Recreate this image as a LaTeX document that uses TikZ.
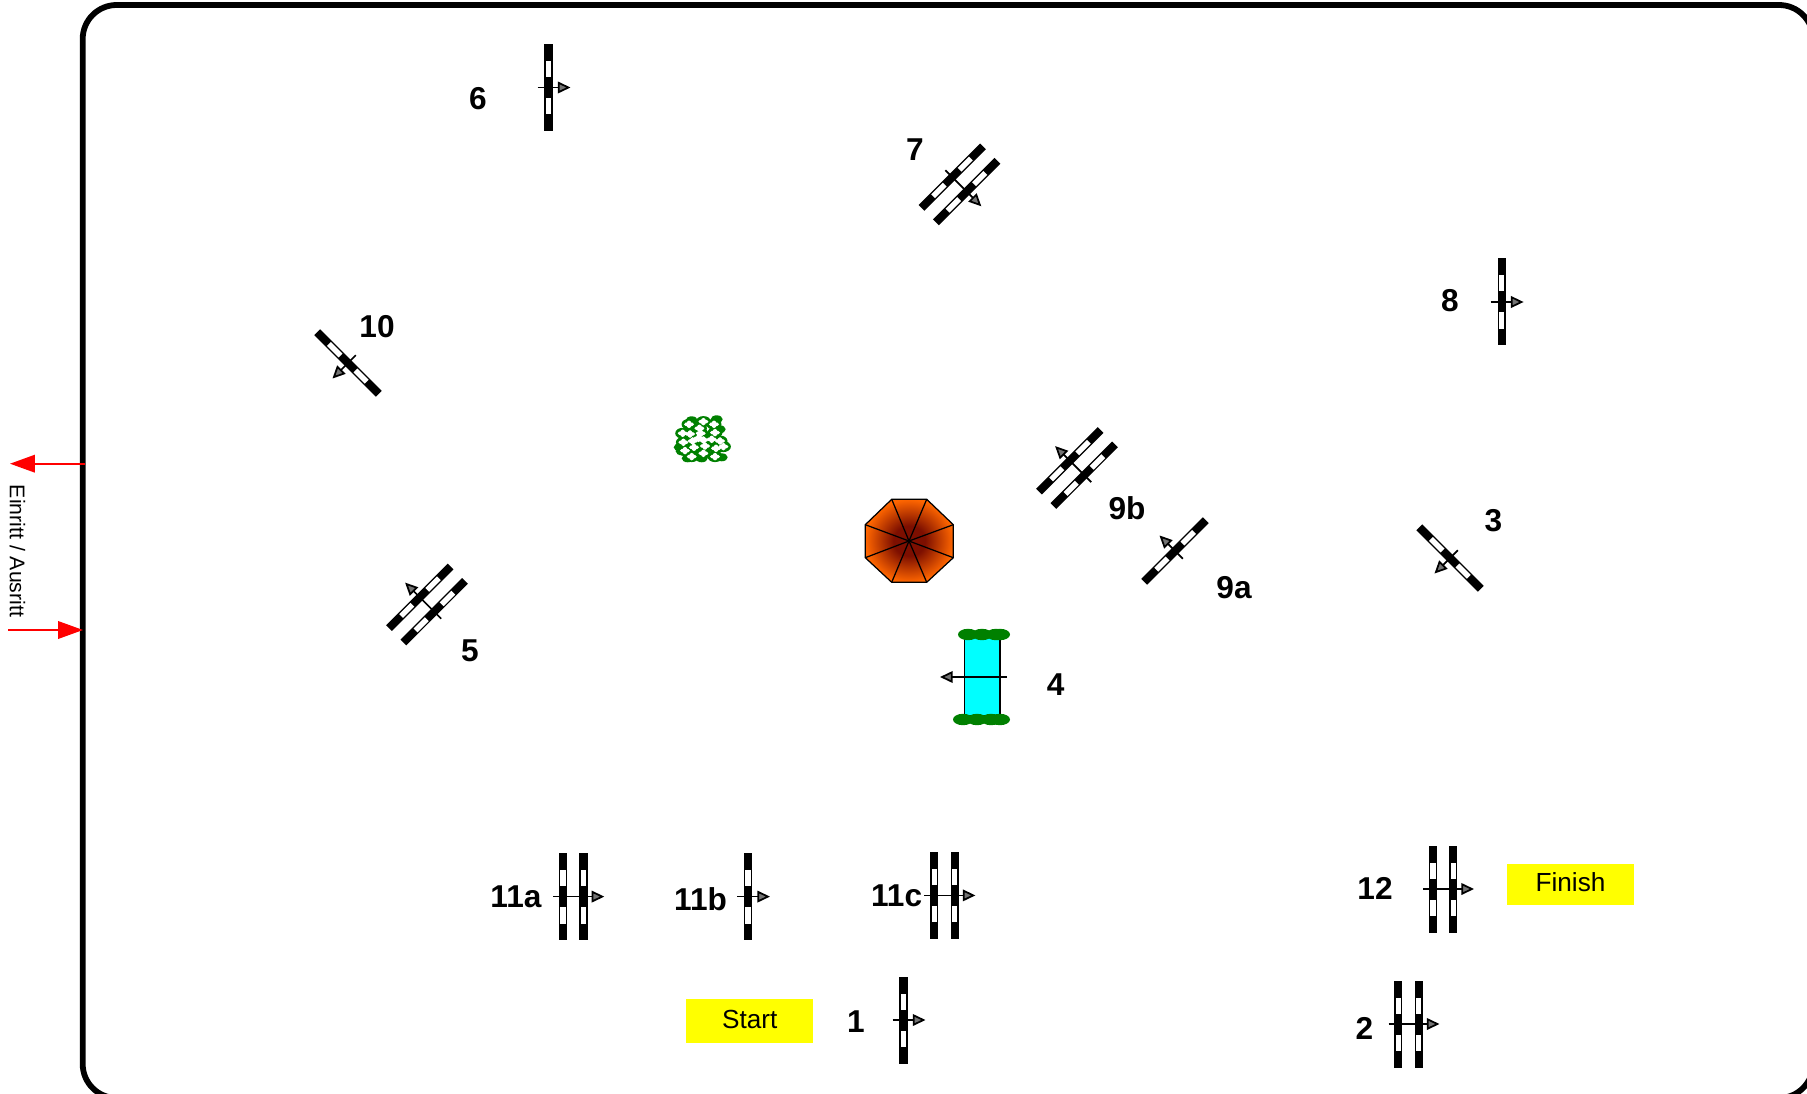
\documentclass[tikz,border=0pt]{standalone}
\usepackage{fontspec}
\setmainfont{Liberation Sans}
\usetikzlibrary{arrows.meta}

\definecolor{bushgreen}{RGB}{0,128,0}
\definecolor{roofdark}{RGB}{125,15,0}
\definecolor{rooflight}{RGB}{255,102,0}
\definecolor{watercyan}{RGB}{0,255,255}
\definecolor{signyellow}{RGB}{255,255,0}
\definecolor{entryred}{RGB}{255,0,0}

\pgfdeclareradialshading{roofshade}{\pgfpoint{0bp}{0bp}}{color(0bp)=(roofdark); color(9bp)=(roofdark); color(25bp)=(rooflight); color(50bp)=(rooflight)}

\newcommand{\jumpbar}[1]{
  \fill[black] (#1-4.1,-43.5) rectangle (#1+4.1,43.5);
  \fill[white] (#1-2.7,-26.5) rectangle (#1+2.7,-10.5);
  \fill[white] (#1-2.7,10.5) rectangle (#1+2.7,27);
}

\tikzset{
  numlabel/.style={inner sep=0pt, font=\fontsize{18}{20}\selectfont\bfseries},
  signbox/.style={fill=signyellow, inner sep=0pt, minimum width=2.54cm, text depth=0.08cm, font=\fontsize{14.9}{17}\selectfont},
  jumparrow/.style={line width=1pt, -{Triangle[length=7.2pt, width=6.6pt, fill=black!55]}},
  redarrow/.style={entryred, line width=1pt, -{Triangle[length=14.2pt, width=10pt]}},
  jumpone/.pic={
    \jumpbar{0}
    \draw[jumparrow] (-11,0) -- (22,0);
  },
  jumptwo/.pic={
    \jumpbar{-10.2}
    \jumpbar{10.2}
    \draw[jumparrow] (-20,0) -- (31,0);
  }
}

\begin{document}
\begin{tikzpicture}[x=0.02cm, y=-0.02cm]
\useasboundingbox (0,0) rectangle (1807,1094);

% arena
\draw[line width=3.3pt, rounded corners=0.68cm] (82.7,5) rectangle (1813,1098);

% entrance
\coordinate (outA) at (85,463.7);
\coordinate (outB) at (10,463.7);
\coordinate (inA) at (8,630);
\coordinate (inB) at (83,630);
\draw[redarrow] (outA) -- (outB);
\draw[redarrow] (inA) -- (inB);
\node[rotate=-90, inner sep=0pt, font=\fontsize{12.1}{14}\selectfont] (entry) at (17.5,551) {Einritt / Ausritt};

% jumps
\foreach \x/\y/\r in {903.5/1020/0, 1450/558/225, 548.5/87.5/0, 1501.6/302/0, 1175/551/135, 348/363/225, 748/896.6/0}
  \pic[rotate=\r] at (\x,\y) {jumpone};
\foreach \x/\y/\r in {1408.5/1024/0, 427/604.5/135, 959.4/184.4/-45, 1077/468/135, 573.3/896.6/0, 944.4/895.4/0, 1443/889/0}
  \pic[rotate=\r] at (\x,\y) {jumptwo};

% water jump
\filldraw[fill=watercyan, line width=0.85pt] (964.3,637) rectangle (1000,716);
\foreach \x in {968,982,996,1000}
  \fill[bushgreen] (\x,634.5) ellipse (10 and 5.7);
\foreach \x in {963,977,991,1000}
  \fill[bushgreen] (\x,719.5) ellipse (10 and 5.7);
\draw[jumparrow] (1007,677) -- (940,677);

% roof
\coordinate (roof) at (909,541);
\shade[shading=roofshade]
  (891.7,499.3) -- (926.7,499.3) -- (953.3,524.7) -- (953.3,557.7) -- (926.7,582.3) -- (891.7,582.3) -- (865.3,557.7) -- (865.3,524.7) -- cycle;
\draw[line width=0.7pt]
  (891.7,499.3) -- (926.7,499.3) -- (953.3,524.7) -- (953.3,557.7) -- (926.7,582.3) -- (891.7,582.3) -- (865.3,557.7) -- (865.3,524.7) -- cycle;
\foreach \x/\y in {891.7/499.3, 926.7/499.3, 953.3/524.7, 953.3/557.7, 926.7/582.3, 891.7/582.3, 865.3/557.7, 865.3/524.7}
  \draw[line width=0.7pt] (roof) -- (\x,\y);

% bush
\begin{scope}[shift={(701.7,439.3)}]
\def\flowers{-12.7/-15, 1.7/-17.7, 12.3/-15, -2.3/-11, -19/-6, -11.7/-5.3, -1/-6, 13.3/-6.7, -18.3/3, -9/1.7, 1.7/0.7, 10/0, 18.3/1.7, -16.7/11.3, -7.7/8, 1.7/14, 14.3/9, -10/17.3, 13.3/17.3, 3.3/6.7, 21.7/7.3, -3.3/-1}
\foreach \x/\y in \flowers
  \fill[bushgreen] (\x,\y) ellipse (7.5 and 5.5);
\foreach \x/\y in {-22/8, -14/19, 0/19, 20/18, 15/-20, -10/-19, 18/-10, -20/12}
  \fill[bushgreen] (\x,\y) ellipse (6 and 4);
\foreach \x/\y in \flowers {
  \fill[white] (\x,\y) ellipse (5 and 2.2);
  \fill[white] (\x,\y) ellipse (2.6 and 3.8);
}
\end{scope}

% numbers
\node[numlabel] (n1) at (856,1022) {1};
\node[numlabel] (n2) at (1364.5,1028) {2};
\node[numlabel] (n3) at (1493.5,521) {3};
\node[numlabel] (n4) at (1055.6,684.5) {4};
\node[numlabel] (n5) at (470,651) {5};
\node[numlabel] (n6) at (478,99) {6};
\node[numlabel] (n7) at (915,150) {7};
\node[numlabel] (n8) at (1450,301) {8};
\node[numlabel] (n9a) at (1234,588) {9a};
\node[numlabel] (n9b) at (1127,508) {9b};
\node[numlabel] (n10) at (377,327) {10};
\node[numlabel] (n11a) at (516,896.6) {11a};
\node[numlabel] (n11b) at (700.6,899) {11b};
\node[numlabel] (n11c) at (896.6,895.4) {11c};
\node[numlabel] (n12) at (1375,888.5) {12};

% signs
\node[signbox, minimum height=0.88cm] (start) at (749.8,1021) {Start};
\node[signbox, minimum height=0.83cm] (finish) at (1570.5,884.5) {Finish};
\end{tikzpicture}
\end{document}
